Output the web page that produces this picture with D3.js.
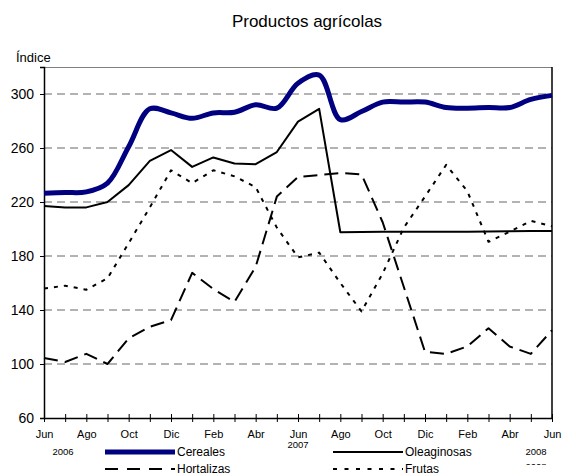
<!DOCTYPE html>
<html>
<head>
<meta charset="utf-8">
<script src="https://cdn.jsdelivr.net/npm/d3@7"></script>
<style>
  body { margin: 0; background: #fff; }
  svg { font-family: "Liberation Sans", Arial, sans-serif; }
</style>
</head>
<body>
<div class="chart"></div>
<script>
// Monthly index values, Jun 2006 .. Jun 2008
var months = ["Jun", "Jul", "Ago", "Sep", "Oct", "Nov", "Dic", "Ene", "Feb", "Mar", "Abr", "May",
              "Jun", "Jul", "Ago", "Sep", "Oct", "Nov", "Dic", "Ene", "Feb", "Mar", "Abr", "May", "Jun"];
var cereales = [226.5, 227, 227.5, 234, 261, 289, 286, 282, 286, 286.5, 292, 289.5,
                308, 314, 281, 287, 294, 294, 294, 290, 289.5, 290, 290, 296, 299];
var oleaginosas = [217, 216, 216, 220, 232.5, 250.5, 258.5, 246, 253, 248.5, 248, 257,
                   279.5, 289, 197.6, 197.8, 198, 198, 198, 198, 198, 198.2, 198.4, 198.5, 198.5];
var hortalizas = [104.5, 101.5, 107.5, 100, 119, 127.5, 132.5, 167.5, 155.5, 146, 172, 224,
                  238.5, 240, 241.5, 240.5, 205, 157, 109, 107.5, 113, 126.5, 113, 107.5, 125];
var frutas = [156, 158, 155, 163.5, 189.5, 216, 243.5, 234, 243.5, 239, 231, 201,
              179, 182.5, 160, 139, 167, 201, 224, 247.5, 228, 190.5, 198, 206, 202];
var yTicks = [60, 100, 140, 180, 220, 260, 300];

var svgWidth = 576, svgHeight = 476;
var margin = { top: 67, right: 24, bottom: 58, left: 44 };
var width = svgWidth - margin.left - margin.right;
var height = svgHeight - margin.top - margin.bottom;

var svg = d3.select(".chart").append("svg")
    .attr("width", svgWidth)
    .attr("height", svgHeight);

var chart = svg.append("g")
    .attr("transform", "translate(" + margin.left + "," + margin.top + ")");

var xScale = d3.scaleLinear().domain([0, months.length - 1]).range([0, width]);
var yScale = d3.scaleLinear().domain([60, 320]).range([height, 0]);

// title
svg.append("text")
    .attr("x", 307).attr("y", 27)
    .attr("text-anchor", "middle")
    .style("font-size", "17px")
    .text("Productos agrícolas");

svg.append("text")
    .attr("x", 16).attr("y", 62)
    .style("font-size", "13px")
    .text("Índice");

// gridlines
chart.selectAll(".grid")
    .data(yTicks.filter(function(d) { return d > 60; }))
    .enter().append("line")
    .attr("x1", 0).attr("x2", width)
    .attr("y1", function(d) { return yScale(d); })
    .attr("y2", function(d) { return yScale(d); })
    .attr("stroke", "#666")
    .attr("stroke-width", 1)
    .attr("stroke-dasharray", "8,5");

// frame: top (grey) and right (black)
chart.append("line")
    .attr("x1", 0).attr("x2", width).attr("y1", 0.5).attr("y2", 0.5)
    .attr("stroke", "#808080");
chart.append("line")
    .attr("x1", width).attr("x2", width).attr("y1", 0).attr("y2", height)
    .attr("stroke", "#000").attr("stroke-width", 1.5);

// y axis
var leftAxis = d3.axisLeft(yScale).tickValues(yTicks).tickSize(4).tickPadding(6);
var yAxisG = chart.append("g").call(leftAxis);
yAxisG.select(".domain").attr("stroke-width", 1.5);
yAxisG.selectAll("text").style("font-size", "14px").attr("fill", "#000");

// x axis: ticks every month crossing the axis line
var bottomAxis = d3.axisBottom(xScale)
    .tickValues(d3.range(months.length))
    .tickSize(0)
    .tickFormat(function(d, i) { return i % 2 === 0 ? months[i] : ""; })
    .tickPadding(12);
var xAxisG = chart.append("g")
    .attr("transform", "translate(0," + height + ")")
    .call(bottomAxis);
xAxisG.select(".domain").attr("stroke-width", 1.5);
xAxisG.selectAll(".tick line").attr("y1", -4).attr("y2", 4).attr("stroke", "#000");
xAxisG.selectAll("text").style("font-size", "11px").attr("fill", "#000");

// year labels
var years = [
    { label: "2006", i: 0, dx: 19, y: height + 37 },
    { label: "2007", i: 12, dx: 0, y: height + 30 },
    { label: "2008", i: 24, dx: -16, y: height + 37 }
];
chart.selectAll(".year")
    .data(years)
    .enter().append("text")
    .attr("x", function(d) { return xScale(d.i) + d.dx; })
    .attr("y", function(d) { return d.y; })
    .attr("text-anchor", "middle")
    .style("font-size", "9.5px")
    .text(function(d) { return d.label; });

// the duplicated, clipped "2008" under the last label
svg.append("clipPath").attr("id", "yrclip")
    .append("rect").attr("x", 500).attr("y", 456).attr("width", 76).attr("height", 9);
svg.append("text")
    .attr("clip-path", "url(#yrclip)")
    .attr("x", margin.left + xScale(24) - 16)
    .attr("y", margin.top + height + 52)
    .attr("text-anchor", "middle")
    .style("font-size", "9.5px")
    .text("2008");

// series lines
var series = [
    { name: "Cereales", values: cereales, color: "#000080", width: 5, dash: null, curve: d3.curveCatmullRom.alpha(0.5) },
    { name: "Oleaginosas", values: oleaginosas, color: "#000", width: 2, dash: null, curve: d3.curveLinear },
    { name: "Hortalizas", values: hortalizas, color: "#000", width: 2, dash: "14,7", curve: d3.curveLinear },
    { name: "Frutas", values: frutas, color: "#000", width: 2, dash: "4,6", curve: d3.curveLinear }
];

var drawOrder = [series[3], series[2], series[1], series[0]];
drawOrder.forEach(function(s) {
    var line = d3.line()
        .x(function(d, i) { return xScale(i); })
        .y(function(d) { return yScale(d); })
        .curve(s.curve);
    chart.append("path")
        .datum(s.values)
        .attr("d", line)
        .attr("fill", "none")
        .attr("stroke", s.color)
        .attr("stroke-width", s.width)
        .attr("stroke-dasharray", s.dash)
        .attr("stroke-linejoin", "round");
});

// legend
var legendPos = [
    { x: 105, y: 452 }, { x: 333, y: 452 },
    { x: 105, y: 469 }, { x: 333, y: 469 }
];
var legendDash = { "Hortalizas": "13,9", "Frutas": "4,7.5" };
series.forEach(function(s, k) {
    var p = legendPos[k];
    svg.append("line")
        .attr("x1", p.x).attr("x2", p.x + 70)
        .attr("y1", p.y).attr("y2", p.y)
        .attr("stroke", s.color)
        .attr("stroke-width", s.width)
        .attr("stroke-dasharray", legendDash[s.name] || null);
    svg.append("text")
        .attr("x", p.x + 72).attr("y", p.y + 4)
        .style("font-size", "12px")
        .text(s.name);
});
</script>
</body>
</html>
